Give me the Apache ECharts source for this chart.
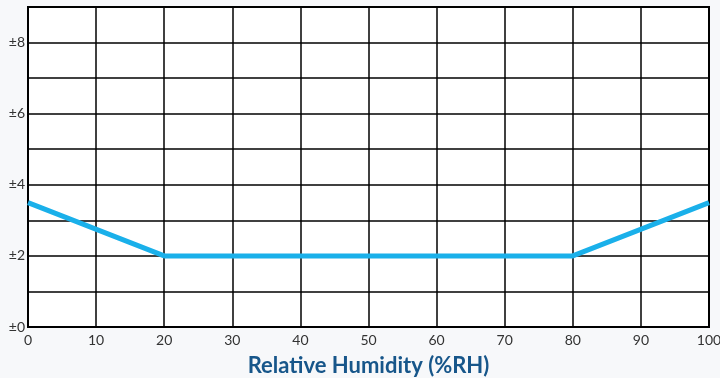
<!DOCTYPE html>
<html>
<head>
<meta charset="UTF-8">
<style>
  html, body { margin: 0; padding: 0; background: #f7f8fa; }
  #chart { width: 720px; height: 378px; }
</style>
<script src="https://cdn.jsdelivr.net/npm/echarts@6/dist/echarts.min.js"></script>
</head>
<body>
<div id="chart"></div>
<script>
// humidity (%RH) vs accuracy (±%RH)
const humidity = [0, 20, 80, 100];
const accuracy = [3.5, 2, 2, 3.5];
const xTicks = [0, 10, 20, 30, 40, 50, 60, 70, 80, 90, 100];

const chart = echarts.init(document.getElementById("chart"));

const option = {
  backgroundColor: "#f7f8fa",
  animation: false,
  grid: {
    left: 28, right: 11, top: 7, bottom: 51,
    outerBoundsMode: "none",
    containLabel: false,
    show: true, backgroundColor: "#ffffff", borderColor: "#000", borderWidth: 2
  },
  xAxis: {
    type: "value",
    min: 0, max: 100, interval: 10,
    name: "Relative Humidity (%RH)",
    nameLocation: "middle",
    nameGap: 28,
    nameTextStyle: { fontFamily: "Lato", fontWeight: "bold", fontSize: 22, color: "#17568a" },
    axisLine: { show: false },
    axisTick: { show: false },
    axisLabel: {
      fontFamily: "Lato", fontSize: 14, color: "#333", margin: 6,
      formatter: (v) => (xTicks.includes(v) ? String(v) : "")
    },
    splitLine: { show: true, lineStyle: { color: "#000", width: 1.5 } }
  },
  yAxis: {
    type: "value",
    min: 0, max: 9, interval: 1,
    axisLine: { show: false },
    axisTick: { show: false },
    axisLabel: {
      fontFamily: "Lato", fontSize: 14, color: "#333", margin: 3,
      formatter: (v) => (v % 2 === 0 && v < 9 ? "±" + v : "")
    },
    splitLine: { show: true, lineStyle: { color: "#000", width: 1.5 } }
  },
  series: [
    {
      type: "line",
      data: humidity.map((h, i) => [h, accuracy[i]]),
      symbol: "none",
      lineStyle: { color: "#1ab0ea", width: 5 },
      z: 5
    }
  ]
};

chart.setOption(option);
</script>
</body>
</html>
